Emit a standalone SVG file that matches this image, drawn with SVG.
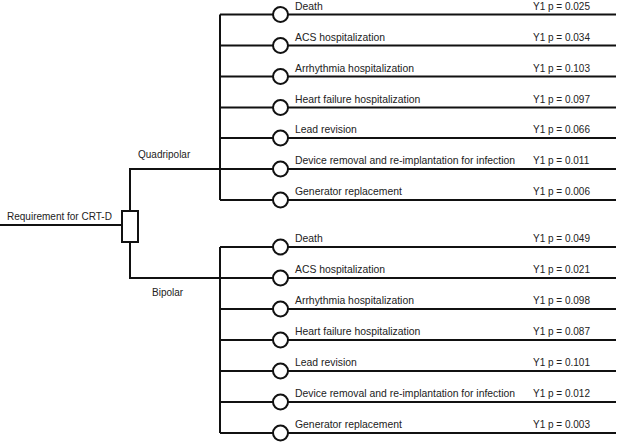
<svg xmlns="http://www.w3.org/2000/svg" width="618" height="443" viewBox="0 0 618 443">
<style>
.ln{stroke:#111;stroke-width:2;fill:none}
.nd{stroke:#111;stroke-width:2;fill:#fff}
text{font-family:"Liberation Sans",Arial,sans-serif;font-size:10px;fill:#222}
text.lb{font-size:10.4px}
</style>
<rect width="618" height="443" fill="#fff"/>
<g id="connectors">
<path class="ln" d="M0 225H122"/>
<path class="ln" d="M130 211V169H220"/>
<path class="ln" d="M130 242V278H220"/>
<path class="ln" d="M220 14.5V200"/>
<path class="ln" d="M220 247V433"/>
<path class="ln" d="M220 14.5H616M220 45.5H616M220 76.5H616M220 107.5H616M220 138H616M220 169H616M220 200H616"/>
<path class="ln" d="M220 247H616M220 278H616M220 309H616M220 340H616M220 371H616M220 402H616M220 433H616"/>
</g>
<g id="root"><rect class="nd" x="122" y="211" width="16" height="31"/><text x="7" y="220">Requirement for CRT-D</text></g>
<g id="quadripolar-label"><text x="138" y="158">Quadripolar</text></g>
<g id="bipolar-label"><text x="152" y="296">Bipolar</text></g>
<g id="q1"><circle class="nd" cx="280.5" cy="14.5" r="7.5"/><text class="lb" x="295" y="9.5">Death</text><text x="533" y="9.5">Y1 p = 0.025</text></g>
<g id="q2"><circle class="nd" cx="280.5" cy="45.5" r="7.5"/><text class="lb" x="295" y="40.5">ACS hospitalization</text><text x="533" y="40.5">Y1 p = 0.034</text></g>
<g id="q3"><circle class="nd" cx="280.5" cy="76.5" r="7.5"/><text class="lb" x="295" y="71.5">Arrhythmia hospitalization</text><text x="533" y="71.5">Y1 p = 0.103</text></g>
<g id="q4"><circle class="nd" cx="280.5" cy="107.5" r="7.5"/><text class="lb" x="295" y="102.5">Heart failure hospitalization</text><text x="533" y="102.5">Y1 p = 0.097</text></g>
<g id="q5"><circle class="nd" cx="280.5" cy="138" r="7.5"/><text class="lb" x="295" y="133">Lead revision</text><text x="533" y="133">Y1 p = 0.066</text></g>
<g id="q6"><circle class="nd" cx="280.5" cy="169" r="7.5"/><text class="lb" x="295" y="164">Device removal and re-implantation for infection</text><text x="533" y="164">Y1 p = 0.011</text></g>
<g id="q7"><circle class="nd" cx="280.5" cy="200" r="7.5"/><text class="lb" x="295" y="195">Generator replacement</text><text x="533" y="195">Y1 p = 0.006</text></g>
<g id="b1"><circle class="nd" cx="280.5" cy="247" r="7.5"/><text class="lb" x="295" y="242">Death</text><text x="533" y="242">Y1 p = 0.049</text></g>
<g id="b2"><circle class="nd" cx="280.5" cy="278" r="7.5"/><text class="lb" x="295" y="273">ACS hospitalization</text><text x="533" y="273">Y1 p = 0.021</text></g>
<g id="b3"><circle class="nd" cx="280.5" cy="309" r="7.5"/><text class="lb" x="295" y="304">Arrhythmia hospitalization</text><text x="533" y="304">Y1 p = 0.098</text></g>
<g id="b4"><circle class="nd" cx="280.5" cy="340" r="7.5"/><text class="lb" x="295" y="335">Heart failure hospitalization</text><text x="533" y="335">Y1 p = 0.087</text></g>
<g id="b5"><circle class="nd" cx="280.5" cy="371" r="7.5"/><text class="lb" x="295" y="366">Lead revision</text><text x="533" y="366">Y1 p = 0.101</text></g>
<g id="b6"><circle class="nd" cx="280.5" cy="402" r="7.5"/><text class="lb" x="295" y="397">Device removal and re-implantation for infection</text><text x="533" y="397">Y1 p = 0.012</text></g>
<g id="b7"><circle class="nd" cx="280.5" cy="433" r="7.5"/><text class="lb" x="295" y="428">Generator replacement</text><text x="533" y="428">Y1 p = 0.003</text></g>
</svg>
